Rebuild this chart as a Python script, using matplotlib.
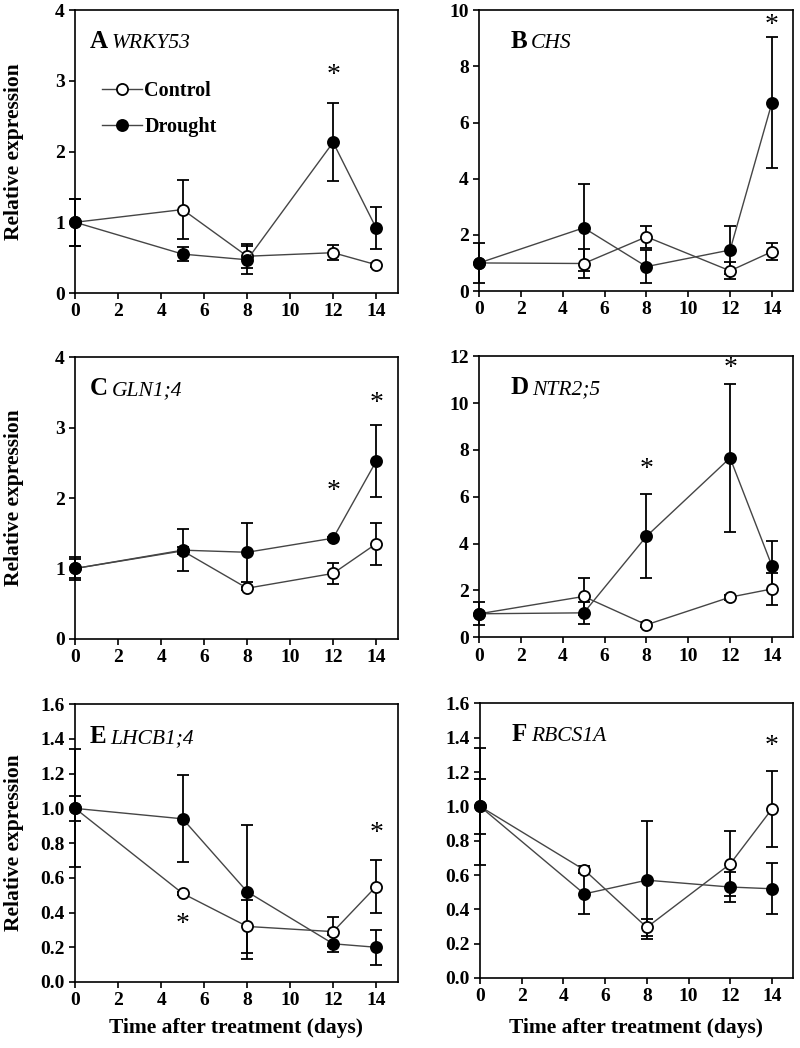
import matplotlib
matplotlib.use('Agg')
import matplotlib.pyplot as plt
import numpy as np
from matplotlib.ticker import FormatStrFormatter

plt.rcParams['font.family'] = ['Liberation Serif', 'DejaVu Serif']
plt.rcParams['font.weight'] = 'bold'

days = [0, 5, 8, 12, 14]
x_ticks = [0, 2, 4, 6, 8, 10, 12, 14]

# A WRKY53
wrky53_control = [1.0, 1.18, 0.52, 0.57, 0.40]
wrky53_control_err = [0.33, 0.42, 0.17, 0.11, 0.03]
wrky53_drought = [1.0, 0.55, 0.47, 2.13, 0.92]
wrky53_drought_err = [0.33, 0.10, 0.20, 0.55, 0.30]
wrky53_star_x = [12]
wrky53_star_y = [3.13]

# B CHS
chs_control = [1.0, 0.98, 1.93, 0.72, 1.40]
chs_control_err = [0.72, 0.50, 0.40, 0.30, 0.30]
chs_drought = [1.0, 2.25, 0.87, 1.46, 6.70]
chs_drought_err = [0.0, 1.55, 0.60, 0.87, 2.33]
chs_star_x = [14]
chs_star_y = [9.58]

# C GLN1;4
gln_control = [1.0, 1.25, 0.72, 0.93, 1.35]
gln_control_err = [0.14, 0.05, 0.02, 0.15, 0.30]
gln_drought = [1.0, 1.26, 1.23, 1.43, 2.52]
gln_drought_err = [0.17, 0.30, 0.42, 0.02, 0.51]
gln_star_x = [12, 14]
gln_star_y = [2.14, 3.39]

# D NTR2;5
ntr_control = [1.0, 1.74, 0.53, 1.71, 2.06]
ntr_control_err = [0.50, 0.80, 0.10, 0.10, 0.70]
ntr_drought = [1.0, 1.04, 4.31, 7.66, 3.05]
ntr_drought_err = [0.0, 0.47, 1.80, 3.15, 1.05]
ntr_star_x = [8, 12]
ntr_star_y = [7.33, 11.64]

# E LHCB1;4
lhcb_control = [1.0, 0.51, 0.32, 0.29, 0.55]
lhcb_control_err = [0.07, 0.01, 0.155, 0.085, 0.155]
lhcb_drought = [1.0, 0.94, 0.52, 0.22, 0.20]
lhcb_drought_err = [0.34, 0.25, 0.385, 0.05, 0.10]
lhcb_star_x = [5, 14]
lhcb_star_y = [0.35, 0.875]

# F RBCS1A
rbcs_control = [1.0, 0.63, 0.295, 0.665, 0.985]
rbcs_control_err = [0.16, 0.02, 0.05, 0.19, 0.22]
rbcs_drought = [1.0, 0.49, 0.57, 0.53, 0.52]
rbcs_drought_err = [0.34, 0.12, 0.345, 0.09, 0.15]
rbcs_star_x = [14]
rbcs_star_y = [1.37]


def draw_panel(ax, letter, gene, ctrl, ctrl_err, drt, drt_err, star_x, star_y,
               ymax, ystep, fmt, label_pos):
    for vals, err in ((ctrl, ctrl_err), (drt, drt_err)):
        ax.errorbar(days, vals, yerr=err, fmt='none', ecolor='k', elinewidth=1.3,
                    capsize=4, capthick=1.3, clip_on=False, zorder=2)
    lc, = ax.plot(days, ctrl, color='#454545', lw=1, marker='o', ms=8, mfc='white',
                  mec='k', mew=1.3, clip_on=False, zorder=3)
    ld, = ax.plot(days, drt, color='#454545', lw=1, marker='o', ms=8, mfc='k',
                  mec='k', mew=1.3, clip_on=False, zorder=4)
    # asterisk glyph sits high in its box, so nudge it down onto the point
    for sx, sy in zip(star_x, star_y):
        ax.annotate('*', xy=(sx, sy), xytext=(0, -10), textcoords='offset pixels',
                    ha='center', va='baseline', fontsize=20, fontweight='normal')

    ax.set_xlim(0, 15)
    ax.set_ylim(0, ymax)
    ax.set_xticks(x_ticks)
    ax.set_yticks(np.arange(0, ymax + ystep / 2, ystep))
    if fmt:
        ax.yaxis.set_major_formatter(FormatStrFormatter(fmt))
    ax.tick_params(direction='out', length=4, width=1.2, labelsize=14)
    for s in ax.spines.values():
        s.set_linewidth(1.2)

    t = ax.text(label_pos[0], label_pos[1], letter, transform=ax.transAxes,
                fontsize=18, fontweight='bold', va='baseline')
    ax.annotate(gene, xy=(1, 0), xycoords=t, xytext=(4, 0), textcoords='offset pixels',
                va='bottom', fontsize=15.5, style='italic', fontweight='normal')
    return lc, ld


fig = plt.figure(figsize=(8, 10.48), dpi=100)
axA = fig.add_axes([0.094, 0.7204, 0.403, 0.270])
axB = fig.add_axes([0.599, 0.7223, 0.392, 0.268])
axC = fig.add_axes([0.094, 0.3903, 0.403, 0.269])
axD = fig.add_axes([0.599, 0.3920, 0.392, 0.268])
axE = fig.add_axes([0.094, 0.0630, 0.403, 0.265])
axF = fig.add_axes([0.600, 0.0668, 0.391, 0.262])

lc, ld = draw_panel(axA, 'A', 'WRKY53', wrky53_control, wrky53_control_err,
                    wrky53_drought, wrky53_drought_err, wrky53_star_x, wrky53_star_y,
                    4, 1, None, (0.046, 0.866))
draw_panel(axB, 'B', 'CHS', chs_control, chs_control_err, chs_drought, chs_drought_err,
           chs_star_x, chs_star_y, 10, 2, None, (0.099, 0.865))
draw_panel(axC, 'C', 'GLN1;4', gln_control, gln_control_err, gln_drought, gln_drought_err,
           gln_star_x, gln_star_y, 4, 1, None, (0.046, 0.865))
draw_panel(axD, 'D', 'NTR2;5', ntr_control, ntr_control_err, ntr_drought, ntr_drought_err,
           ntr_star_x, ntr_star_y, 12, 2, None, (0.099, 0.865))
draw_panel(axE, 'E', 'LHCB1;4', lhcb_control, lhcb_control_err, lhcb_drought, lhcb_drought_err,
           lhcb_star_x, lhcb_star_y, 1.6, 0.2, '%.1f', (0.046, 0.860))
draw_panel(axF, 'F', 'RBCS1A', rbcs_control, rbcs_control_err, rbcs_drought, rbcs_drought_err,
           rbcs_star_x, rbcs_star_y, 1.6, 0.2, '%.1f', (0.100, 0.862))

axA.legend([lc, ld], ['Control', 'Drought'], loc='upper left', bbox_to_anchor=(0.083, 0.75),
           frameon=False, handlelength=2.0, handletextpad=0.1, labelspacing=0.8,
           borderpad=0, borderaxespad=0, prop={'weight': 'bold', 'size': 14.5})

for ax in (axA, axC, axE):
    ax.set_ylabel('Relative expression', fontsize=15.5, fontweight='bold')
    ax.yaxis.set_label_coords(-0.158, 0.5)
for ax, off in ((axE, -0.13), (axF, -0.145)):
    ax.set_xlabel('Time after treatment (days)', fontsize=15.5, fontweight='bold', va='top')
    ax.xaxis.set_label_coords(0.5, off)

fig.savefig('out.png', dpi=100)
